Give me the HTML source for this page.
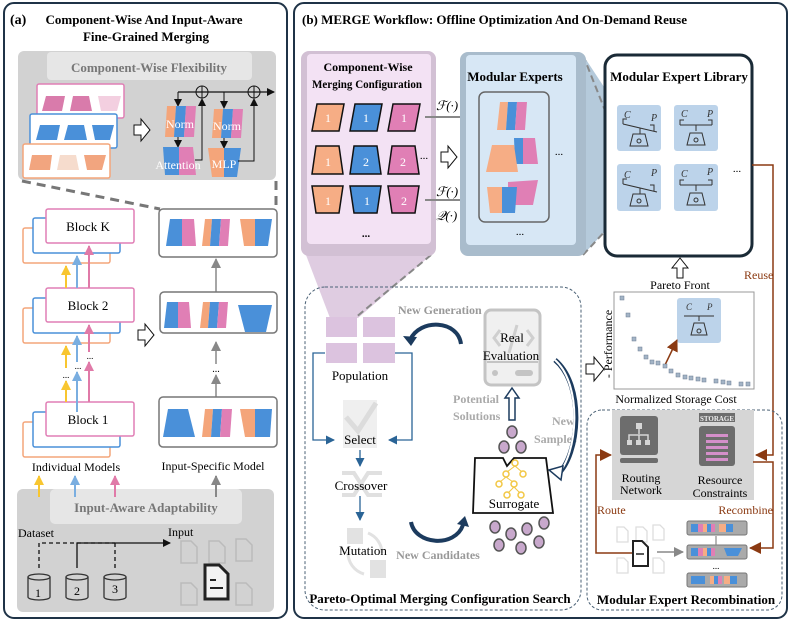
<!DOCTYPE html>
<html><head><meta charset="utf-8"><style>
html,body{margin:0;padding:0;background:#fff}
svg{display:block}
text{font-family:"Liberation Serif",serif}
</style></head><body>
<svg width="793" height="621" viewBox="0 0 793 621" xmlns="http://www.w3.org/2000/svg">
<defs>
<marker id="ak" markerWidth="8" markerHeight="8" refX="7" refY="4" orient="auto" markerUnits="userSpaceOnUse"><path d="M0,0 L8,4 L0,8z" fill="#111"/></marker>
<marker id="ag" markerWidth="10" markerHeight="10" refX="9" refY="5" orient="auto" markerUnits="userSpaceOnUse"><path d="M0,0 L10,5 L0,10z" fill="#888"/></marker>
<marker id="ay" markerWidth="10" markerHeight="10" refX="9" refY="5" orient="auto" markerUnits="userSpaceOnUse"><path d="M0,0 L10,5 L0,10z" fill="#f8c630"/></marker>
<marker id="ab" markerWidth="10" markerHeight="10" refX="9" refY="5" orient="auto" markerUnits="userSpaceOnUse"><path d="M0,0 L10,5 L0,10z" fill="#7aaee0"/></marker>
<marker id="ap" markerWidth="10" markerHeight="10" refX="9" refY="5" orient="auto" markerUnits="userSpaceOnUse"><path d="M0,0 L10,5 L0,10z" fill="#e07aa8"/></marker>
<marker id="an" markerWidth="9" markerHeight="9" refX="8" refY="4.5" orient="auto" markerUnits="userSpaceOnUse"><path d="M0,0 L9,4.5 L0,9z" fill="#2a6496"/></marker>
<marker id="ar" markerWidth="12" markerHeight="12" refX="11" refY="6" orient="auto" markerUnits="userSpaceOnUse"><path d="M0,0 L12,6 L0,12z" fill="#8b3a12"/></marker>
</defs>

<!-- PANEL A -->
<rect x="4" y="3" width="283" height="615" rx="10" fill="#fff" stroke="#1f3347" stroke-width="2"/>
<text x="10" y="24" font-size="14" font-weight="bold">(a)</text>
<text x="144" y="24" font-size="13" font-weight="bold" text-anchor="middle" textLength="197" lengthAdjust="spacingAndGlyphs">Component-Wise And Input-Aware</text>
<text x="146" y="41" font-size="13" font-weight="bold" text-anchor="middle">Fine-Grained Merging</text>

<rect x="18" y="51" width="258" height="129" rx="6" fill="#d2d2d2"/>
<rect x="47" y="52" width="205" height="28" rx="4" fill="#e6e6e6"/>
<text x="149" y="72" font-size="13" font-weight="bold" fill="#777" text-anchor="middle">Component-Wise Flexibility</text>
<rect x="37" y="84" width="87" height="34" rx="2" fill="#fff" stroke="#e07fb5" stroke-width="1.5"/>
<polygon points="46,96 65,96 62,111 42,111" fill="#d97bab"/><polygon points="73,96 89,96 92,111 70,111" fill="#d97bab"/><polygon points="98,96 121,96 117,111 101,111" fill="#f3cfe0"/>
<rect x="30" y="114" width="87" height="34" rx="2" fill="#fff" stroke="#4a90d9" stroke-width="1.5"/>
<polygon points="40,125 60,125 57,140 36,140" fill="#4a90d9"/><polygon points="68,125 84,125 87,140 64,140" fill="#4a90d9"/><polygon points="92,125 114,125 110,140 95,140" fill="#4a90d9"/>
<rect x="23" y="144" width="87" height="34" rx="2" fill="#fff" stroke="#f4a57a" stroke-width="1.5"/>
<polygon points="32,155 52,155 50,170 29,170" fill="#f2a57f"/><polygon points="60,155 76,155 79,170 57,170" fill="#f6dccd"/><polygon points="84,155 106,155 102,170 87,170" fill="#f2a57f"/>
<path d="M134,125 h7 v-6 l9,11 l-9,11 v-6 h-7z" fill="#fff" stroke="#111"/>
<line x1="178" y1="92" x2="274" y2="92" stroke="#111" stroke-width="1.2" marker-end="url(#ak)"/>
<circle cx="202" cy="92" r="6" fill="none" stroke="#111"/><line x1="196" y1="92" x2="208" y2="92" stroke="#111"/><line x1="202" y1="86" x2="202" y2="98" stroke="#111"/>
<circle cx="254" cy="92" r="6" fill="none" stroke="#111"/><line x1="248" y1="92" x2="260" y2="92" stroke="#111"/><line x1="254" y1="86" x2="254" y2="98" stroke="#111"/>
<line x1="178" y1="92" x2="178" y2="106" stroke="#111" marker-end="url(#ak)"/>
<line x1="224" y1="92" x2="224" y2="108" stroke="#111" marker-end="url(#ak)"/>
<polygon points="167,106 176,106 174,137 165,137" fill="#f4a57a"/><polygon points="176,106 186,106 184,137 174,137" fill="#4a90d9"/><polygon points="186,106 196,106 194,137 184,137" fill="#e07fb5"/>
<text x="180" y="128" font-size="12" fill="#fff" text-anchor="middle">Norm</text>
<line x1="178" y1="137" x2="178" y2="147" stroke="#111" marker-end="url(#ak)"/>
<polygon points="163,147 179,147 179,175 165,175" fill="#4a90d9"/><polygon points="179,147 193,147 196,175 179,175" fill="#e07fb5"/>
<text x="178" y="169" font-size="12" fill="#fff" text-anchor="middle">Attention</text>
<polyline points="195,160 202,160 202,99" fill="none" stroke="#111" marker-end="url(#ak)"/>
<polygon points="214,109 223,109 221,138 212,138" fill="#f4a57a"/><polygon points="223,109 233,109 231,138 221,138" fill="#4a90d9"/><polygon points="233,109 243,109 241,138 231,138" fill="#e07fb5"/>
<text x="227" y="130" font-size="12" fill="#fff" text-anchor="middle">Norm</text>
<line x1="224" y1="138" x2="224" y2="148" stroke="#111" marker-end="url(#ak)"/>
<polygon points="208,148 224,148 224,177 212,177" fill="#f4a57a"/><polygon points="224,148 241,148 237,177 224,177" fill="#4a90d9"/>
<text x="224" y="168" font-size="12" fill="#fff" text-anchor="middle">MLP</text>
<polyline points="238,161 254,161 254,99" fill="none" stroke="#111" marker-end="url(#ak)"/>
<line x1="22" y1="181" x2="160" y2="209" stroke="#777" stroke-width="3" stroke-dasharray="9,6"/>
<line x1="276" y1="181" x2="276" y2="209" stroke="#777" stroke-width="3" stroke-dasharray="9,6"/>
<rect x="159" y="209" width="118" height="48" rx="4" fill="#fff" stroke="#777" stroke-width="1.5"/>
<polygon points="170,219 182,219 182,246 166,246" fill="#4a90d9"/><polygon points="182,219 194,219 196,246 182,246" fill="#e07fb5"/>
<polygon points="205,219 212,219 210,246 202,246" fill="#f4a57a"/><polygon points="212,219 221,219 219,246 210,246" fill="#4a90d9"/><polygon points="221,219 230,219 228,246 219,246" fill="#e07fb5"/>
<polygon points="240,219 255,219 255,246 244,246" fill="#f4a57a"/><polygon points="255,219 272,219 268,246 255,246" fill="#4a90d9"/>
<line x1="216" y1="293" x2="216" y2="259" stroke="#888" stroke-width="1.5" marker-end="url(#ag)"/>
<rect x="160" y="292" width="117" height="41" rx="4" fill="#fff" stroke="#777" stroke-width="1.5"/>
<polygon points="167,302 178,302 178,328 164,328" fill="#4a90d9"/><polygon points="178,302 189,302 191,328 178,328" fill="#e07fb5"/>
<polygon points="203,302 210,302 208,328 200,328" fill="#f4a57a"/><polygon points="210,302 219,302 217,328 208,328" fill="#4a90d9"/><polygon points="219,302 228,302 226,328 217,328" fill="#e07fb5"/>
<polygon points="238,305 272,305 266,332 245,332" fill="#4a90d9"/>
<path d="M138,330 h7 v-6 l9,11 l-9,11 v-6 h-7z" fill="#fff" stroke="#111"/>
<line x1="216" y1="397" x2="216" y2="375" stroke="#888" stroke-width="1.5" marker-end="url(#ag)"/>
<line x1="216" y1="364" x2="216" y2="342" stroke="#888" stroke-width="1.5" marker-end="url(#ag)"/>
<text x="216" y="372" font-size="10" text-anchor="middle">...</text>
<rect x="159" y="397" width="118" height="50" rx="4" fill="#fff" stroke="#777" stroke-width="1.5"/>
<polygon points="168,409 188,409 195,437 163,437" fill="#4a90d9"/>
<polygon points="205,409 213,409 211,437 202,437" fill="#f4a57a"/><polygon points="213,409 222,409 220,437 211,437" fill="#4a90d9"/><polygon points="222,409 232,409 230,437 220,437" fill="#e07fb5"/>
<polygon points="240,409 255,409 255,437 245,437" fill="#f4a57a"/><polygon points="255,409 272,409 270,437 255,437" fill="#4a90d9"/>
<text x="213" y="470" font-size="12" text-anchor="middle">Input-Specific Model</text>
<g fill="#fff" stroke-width="1.5">
<rect x="23" y="228" width="87" height="35" rx="2" stroke="#f4a57a"/><rect x="33" y="218" width="87" height="35" rx="2" stroke="#4a90d9"/><rect x="46" y="209" width="88" height="34" rx="2" stroke="#e07fb5"/>
<rect x="23" y="308" width="87" height="35" rx="2" stroke="#f4a57a"/><rect x="33" y="298" width="87" height="35" rx="2" stroke="#4a90d9"/><rect x="46" y="288" width="88" height="34" rx="2" stroke="#e07fb5"/>
<rect x="23" y="422" width="87" height="35" rx="2" stroke="#f4a57a"/><rect x="33" y="412" width="87" height="35" rx="2" stroke="#4a90d9"/><rect x="46" y="402" width="88" height="34" rx="2" stroke="#e07fb5"/>
</g>
<text x="88" y="231" font-size="13" text-anchor="middle">Block K</text>
<text x="88" y="310" font-size="13" text-anchor="middle">Block 2</text>
<text x="88" y="424" font-size="13" text-anchor="middle">Block 1</text>
<g stroke-width="2">
<line x1="66" y1="288" x2="66" y2="266" stroke="#f8c630" marker-end="url(#ay)"/>
<line x1="77" y1="288" x2="77" y2="256" stroke="#7aaee0" marker-end="url(#ab)"/>
<line x1="89" y1="288" x2="89" y2="246" stroke="#e07aa8" marker-end="url(#ap)"/>
<line x1="66" y1="402" x2="66" y2="381" stroke="#f8c630" marker-end="url(#ay)"/>
<line x1="66" y1="368" x2="66" y2="346" stroke="#f8c630" marker-end="url(#ay)"/>
<line x1="77" y1="412" x2="77" y2="372" stroke="#7aaee0" marker-end="url(#ab)"/>
<line x1="77" y1="362" x2="77" y2="336" stroke="#7aaee0" marker-end="url(#ab)"/>
<line x1="89" y1="402" x2="89" y2="362" stroke="#e07aa8" marker-end="url(#ap)"/>
<line x1="89" y1="352" x2="89" y2="325" stroke="#e07aa8" marker-end="url(#ap)"/>
</g>
<text x="66" y="378" font-size="9" text-anchor="middle">...</text>
<text x="78" y="369" font-size="9" text-anchor="middle">...</text>
<text x="90" y="359" font-size="9" text-anchor="middle">...</text>
<text x="76" y="471" font-size="12" text-anchor="middle">Individual Models</text>
<rect x="17" y="489" width="257" height="123" rx="6" fill="#d2d2d2"/>
<rect x="50" y="489" width="192" height="35" rx="5" fill="#e6e6e6"/>
<text x="146" y="512" font-size="13" font-weight="bold" fill="#777" text-anchor="middle">Input-Aware Adaptability</text>
<g stroke-width="2">
<line x1="39" y1="497" x2="39" y2="476" stroke="#f8c630" marker-end="url(#ay)"/>
<line x1="75" y1="497" x2="75" y2="476" stroke="#7aaee0" marker-end="url(#ab)"/>
<line x1="115" y1="497" x2="115" y2="476" stroke="#e07aa8" marker-end="url(#ap)"/>
<line x1="216" y1="497" x2="216" y2="476" stroke="#888" marker-end="url(#ag)"/>
</g>
<text x="18" y="537" font-size="12">Dataset</text>
<text x="168" y="536" font-size="12">Input</text>
<path d="M39,568 V543 H77 M115,543 V568 M77,543 H115" fill="none" stroke="#111" stroke-width="1.3" stroke-dasharray="4,3"/>
<path d="M77,568 V543 H170" fill="none" stroke="#111" stroke-width="1.3" marker-end="url(#ak)"/>
<g fill="none" stroke="#333" stroke-width="1.3">
<path d="M28,577 v20 a11,3 0 0 0 22,0 v-20"/><ellipse cx="39" cy="577" rx="11" ry="3"/>
<path d="M66,577 v20 a11,3 0 0 0 22,0 v-20"/><ellipse cx="77" cy="577" rx="11" ry="3"/>
<path d="M104,577 v20 a11,3 0 0 0 22,0 v-20"/><ellipse cx="115" cy="577" rx="11" ry="3"/>
</g>
<text x="38" y="597" font-size="12" text-anchor="middle">1</text><text x="77" y="595" font-size="12" text-anchor="middle">2</text><text x="115" y="593" font-size="12" text-anchor="middle">3</text>
<g fill="none" stroke="#bbb" stroke-width="1.5">
<path d="M181,541 h10 l6,6 v16 h-16z"/><path d="M209,541 h10 l6,6 v16 h-16z"/><path d="M236,539 h10 l6,6 v16 h-16z"/>
<path d="M181,583 h10 l6,6 v16 h-16z"/><path d="M236,583 h10 l6,6 v16 h-16z"/>
</g>
<path d="M205,565 h14 l9,9 v25 h-23z" fill="#f3f3f3" stroke="#222" stroke-width="3"/>
<line x1="210" y1="580" x2="216" y2="580" stroke="#222" stroke-width="2"/><line x1="210" y1="588" x2="223" y2="588" stroke="#222" stroke-width="2"/>

<!-- PANEL B -->
<rect x="294" y="3" width="493" height="615" rx="10" fill="#fff" stroke="#1f3347" stroke-width="2"/>
<text x="302" y="24" font-size="13" font-weight="bold" textLength="385" lengthAdjust="spacingAndGlyphs">(b) MERGE Workflow: Offline Optimization And On-Demand Reuse</text>

<polygon points="306,255 431,255 358,318 330,318" fill="#d9c3dc" opacity="0.85"/>
<line x1="431" y1="255" x2="355" y2="318" stroke="#888" stroke-width="2" stroke-dasharray="7,4"/>
<rect x="301" y="51" width="135" height="205" rx="8" fill="#d2c0d4"/>
<rect x="307" y="54" width="124" height="190" rx="4" fill="#f3e2f4"/>
<text x="368" y="71" font-size="12" font-weight="bold" text-anchor="middle">Component-Wise</text>
<text x="367" y="88" font-size="12" font-weight="bold" text-anchor="middle" textLength="110" lengthAdjust="spacingAndGlyphs">Merging Configuration</text>
<g stroke="#111" stroke-width="1.5">
<polygon points="317,104 344,104 339,131 312,131" fill="#f6ad85"/><polygon points="355,104 382,104 377,131 350,131" fill="#4a90d9"/><polygon points="393,104 420,104 415,131 388,131" fill="#e07fb5"/>
<polygon points="316,146 339,146 343,174 312,174" fill="#f6ad85"/><polygon points="354,146 377,146 381,174 350,174" fill="#4a90d9"/><polygon points="392,146 415,146 419,174 388,174" fill="#e07fb5"/>
<polygon points="312,186 343,186 339,213 316,213" fill="#f6ad85"/><polygon points="350,186 381,186 377,213 354,213" fill="#4a90d9"/><polygon points="388,186 419,186 415,213 392,213" fill="#e07fb5"/>
</g>
<g font-size="12" fill="#fff" text-anchor="middle">
<text x="328" y="122">1</text><text x="366" y="122">1</text><text x="404" y="122">1</text>
<text x="328" y="166">1</text><text x="366" y="166">2</text><text x="403" y="166">2</text>
<text x="328" y="205">1</text><text x="367" y="205">1</text><text x="404" y="205">2</text>
</g>
<text x="366" y="237" font-size="11" font-weight="bold" text-anchor="middle">...</text>
<text x="424" y="159" font-size="11" text-anchor="middle">...</text>
<text x="436" y="110" font-size="13" font-style="italic">ℱ(·)</text>
<line x1="425" y1="117" x2="477" y2="117" stroke="#888" stroke-width="2" marker-end="url(#ag)"/>
<path d="M441,152 h7 v-6 l9,11 l-9,11 v-6 h-7z" fill="#fff" stroke="#111"/>
<text x="436" y="196" font-size="13" font-style="italic">ℱ(·)</text>
<line x1="425" y1="200" x2="477" y2="200" stroke="#888" stroke-width="2" marker-end="url(#ag)"/>
<text x="436" y="220" font-size="13" font-style="italic">𝒬(·)</text>
<polygon points="583,55 606,90 606,230 583,255" fill="#b5cadb"/>
<line x1="583" y1="55" x2="608" y2="118" stroke="#888" stroke-width="2" stroke-dasharray="7,4"/>
<line x1="583" y1="255" x2="608" y2="228" stroke="#888" stroke-width="2" stroke-dasharray="7,4"/>
<rect x="460" y="52" width="126" height="204" rx="8" fill="#a9bccc"/>
<rect x="466" y="55" width="110" height="190" rx="4" fill="#d7e7f5"/>
<text x="515" y="81" font-size="13" font-weight="bold" text-anchor="middle">Modular Experts</text>
<rect x="479" y="92" width="70" height="130" rx="6" fill="#d7e7f5" stroke="#666" stroke-width="1.5"/>
<polygon points="500,102 508,102 506,130 497,130" fill="#f6ad85"/><polygon points="508,102 517,102 515,130 506,130" fill="#4a90d9"/><polygon points="517,102 527,102 525,130 515,130" fill="#e07fb5"/>
<polygon points="514,138 523,138 523,164 515,164" fill="#4a90d9"/><polygon points="523,138 535,138 538,164 523,164" fill="#e07fb5"/>
<polygon points="492,145 514,145 518,172 486,172" fill="#f6ad85"/>
<polygon points="508,182 538,180 533,205 508,205" fill="#e07fb5"/>
<polygon points="487,187 502,187 502,213 490,213" fill="#f6ad85"/><polygon points="502,187 517,187 515,213 502,213" fill="#4a90d9"/>
<text x="559" y="155" font-size="11" text-anchor="middle">...</text>
<text x="520" y="235" font-size="11" text-anchor="middle">...</text>
<rect x="605" y="55" width="147" height="201" rx="12" fill="#fff" stroke="#1a2a36" stroke-width="3"/>
<text x="679" y="81" font-size="13" font-weight="bold" text-anchor="middle">Modular Expert Library</text>
<rect x="617" y="105" width="44" height="46" rx="3" fill="#bcd3ea"/>
<rect x="674" y="105" width="44" height="46" rx="3" fill="#bcd3ea"/>
<rect x="617" y="164" width="44" height="47" rx="3" fill="#bcd3ea"/>
<rect x="674" y="164" width="44" height="47" rx="3" fill="#bcd3ea"/>
<g fill="none" stroke="#333" stroke-width="1">
<path d="M623,124 l34,8 M640,128 v6 M630,146 l3,-12 h12 l3,12z M623,124 v-5 h4 M654,131 v-6 h-4"/>
<path d="M680,125 h32 M696,125 v6 M687,145 l3,-12 h12 l3,12z M680,125 v-5 h4 M712,125 v-5 h-4"/>
<path d="M623,184 l34,8 M640,188 v6 M630,206 l3,-12 h12 l3,12z M623,184 v-5 h4 M654,191 v-6 h-4"/>
<path d="M680,185 h32 M696,185 v6 M687,205 l3,-12 h12 l3,12z M680,185 v-5 h4 M712,185 v-5 h-4"/>
<circle cx="639" cy="141" r="2"/><circle cx="696" cy="140" r="2"/><circle cx="639" cy="201" r="2"/><circle cx="696" cy="200" r="2"/>
</g>
<g font-size="10" font-style="italic" fill="#333">
<text x="624" y="118">C</text><text x="651" y="121">P</text><text x="681" y="117">C</text><text x="707" y="117">P</text>
<text x="624" y="178">C</text><text x="651" y="176">P</text><text x="681" y="177">C</text><text x="707" y="175">P</text>
</g>
<text x="737" y="172" font-size="11" text-anchor="middle">...</text>
<polyline points="752,165 773,165 773,455 756,455" fill="none" stroke="#8b3a12" stroke-width="1.5" marker-end="url(#ar)"/>
<text x="744" y="279" font-size="12" fill="#8b3a12">Reuse</text>
<path d="M677,278 v-10 h-5 l8,-10 l8,10 h-5 v10z" fill="#fff" stroke="#111"/>
<text x="680" y="289" font-size="12" text-anchor="middle">Pareto Front</text>
<rect x="614" y="292" width="140" height="97" fill="#fff" stroke="#999"/>
<text transform="translate(612,344) rotate(-90)" font-size="12" text-anchor="middle">- Performance</text>
<rect x="677" y="298" width="44" height="45" rx="3" fill="#bcd3ea"/>
<g fill="none" stroke="#333" stroke-width="1"><path d="M684,316 h30 M699,316 v5 M691,335 l3,-12 h10 l3,12z"/><circle cx="699" cy="331" r="2"/></g>
<g font-size="9" font-style="italic" fill="#333"><text x="686" y="310">C</text><text x="707" y="310">P</text></g>
<line x1="665" y1="365" x2="677" y2="340" stroke="#8b3a12" stroke-width="1.5" marker-end="url(#ar)"/>
<g fill="#a3b4c6" stroke="#6c7f92" stroke-width="0.5">
<rect x="620" y="296" width="4" height="4"/><rect x="626" y="313" width="4" height="4"/><rect x="632" y="337" width="4" height="4"/><rect x="638" y="347" width="4" height="4"/><rect x="644" y="355" width="4" height="4"/><rect x="650" y="360" width="4" height="4"/><rect x="656" y="361" width="4" height="4"/><rect x="663" y="364" width="4" height="4"/><rect x="669" y="369" width="4" height="4"/><rect x="676" y="373" width="4" height="4"/><rect x="683" y="375" width="4" height="4"/><rect x="689" y="376" width="4" height="4"/><rect x="696" y="377" width="4" height="4"/><rect x="702" y="378" width="4" height="4"/><rect x="714" y="379" width="4" height="4"/><rect x="721" y="380" width="4" height="4"/><rect x="727" y="381" width="4" height="4"/><rect x="739" y="382" width="4" height="4"/><rect x="746" y="382" width="4" height="4"/>
</g>
<text x="676" y="403" font-size="12" text-anchor="middle">Normalized Storage Cost</text>
<path d="M586,364 h8 v-7 l10,12 l-10,12 v-7 h-8z" fill="#fff" stroke="#111"/>

<rect x="305" y="287" width="276" height="323" rx="20" fill="none" stroke="#4b6276" stroke-width="1" stroke-dasharray="3,2"/>
<text x="440" y="603" font-size="13" font-weight="bold" text-anchor="middle">Pareto-Optimal Merging Configuration Search</text>
<g fill="#dcc3df"><rect x="326" y="317" width="31" height="20"/><rect x="363" y="317" width="32" height="20"/><rect x="326" y="343" width="31" height="20"/><rect x="363" y="343" width="32" height="20"/></g>
<text x="360" y="380" font-size="13" text-anchor="middle">Population</text>
<polyline points="325,353 313,353 313,440 334,440" fill="none" stroke="#2a6496" stroke-width="1.3" marker-end="url(#an)"/>
<polyline points="395,353 412,353 412,440 389,440" fill="none" stroke="#2a6496" stroke-width="1.3" marker-end="url(#an)"/>
<rect x="343" y="400" width="34" height="48" fill="#efefef"/>
<path d="M346,417 l12,14 l18,-28" fill="none" stroke="#dcdcdc" stroke-width="5"/>
<text x="360" y="444" font-size="13" text-anchor="middle">Select</text>
<line x1="360" y1="450" x2="360" y2="466" stroke="#2a6496" stroke-width="1.3" marker-end="url(#an)"/>
<path d="M342,473 h12 l14,22 h14 M342,495 h12 l14,-22 h14" fill="none" stroke="#e0e0e0" stroke-width="4"/>
<text x="361" y="490" font-size="13" text-anchor="middle">Crossover</text>
<line x1="360" y1="496" x2="360" y2="520" stroke="#2a6496" stroke-width="1.3" marker-end="url(#an)"/>
<rect x="347" y="528" width="16" height="16" fill="#e2e2e2"/><rect x="370" y="560" width="16" height="18" fill="#e2e2e2"/>
<path d="M368,533 a22,22 0 0 1 14,20 M348,552 a22,22 0 0 0 16,22" fill="none" stroke="#e2e2e2" stroke-width="3"/>
<text x="363" y="555" font-size="13" text-anchor="middle">Mutation</text>
<text x="398" y="314" font-size="12" fill="#999" font-weight="bold">New Generation</text>
<path d="M461,344 C458,320 420,318 410,340" fill="none" stroke="#1c3b5e" stroke-width="4"/>
<path d="M403,336 l8,10 l6,-9z" fill="#1c3b5e"/>
<text x="438" y="559" font-size="12" fill="#999" font-weight="bold" text-anchor="middle">New Candidates</text>
<path d="M411,522 C415,545 455,548 463,525" fill="none" stroke="#1c3b5e" stroke-width="4"/>
<path d="M457,524 l8,-8 l4,11z" fill="#1c3b5e"/>
<rect x="485" y="310" width="55" height="75" rx="6" fill="#f0f0f0" stroke="#c4c4c4" stroke-width="3"/>
<line x1="487" y1="362" x2="538" y2="362" stroke="#c4c4c4" stroke-width="2"/>
<circle cx="495" cy="373" r="3" fill="#c4c4c4"/><rect x="515" y="370" width="18" height="6" rx="3" fill="#c4c4c4"/>
<path d="M500,330 l-6,8 l6,8 M527,330 l6,8 l-6,8 M517,325 l-8,28" fill="none" stroke="#cfcfcf" stroke-width="3"/>
<text x="512" y="342" font-size="13" text-anchor="middle">Real</text>
<text x="511" y="360" font-size="13" text-anchor="middle">Evaluation</text>
<path d="M509,420 v-22 h-4 l7,-10 l7,10 h-4 v22z" fill="#fff" stroke="#1c3b5e" stroke-width="1.5"/>
<text x="453" y="403" font-size="12" fill="#aaa" font-weight="bold">Potential</text>
<text x="453" y="420" font-size="12" fill="#aaa" font-weight="bold">Solutions</text>
<text x="552" y="425" font-size="12" fill="#aaa" font-weight="bold">New</text>
<text x="534" y="443" font-size="12" fill="#aaa" font-weight="bold">Samples</text>
<path d="M555,360 C585,385 580,455 557,475" fill="none" stroke="#1c3b5e" stroke-width="5"/>
<path d="M555,360 C583,385 578,455 557,475" fill="none" stroke="#fff" stroke-width="2"/>
<path d="M549,470 l14,-4 l-2,14z" fill="#fff" stroke="#1c3b5e" stroke-width="1.5"/>
<g fill="#c8a8cc" stroke="#555" stroke-width="1.5">
<ellipse cx="512" cy="432" rx="5" ry="6"/><ellipse cx="504" cy="447" rx="5" ry="6"/><ellipse cx="521" cy="447" rx="5" ry="6"/>
<ellipse cx="495" cy="527" rx="5" ry="6"/><ellipse cx="511" cy="534" rx="5" ry="6"/><ellipse cx="527" cy="529" rx="5" ry="6"/><ellipse cx="544" cy="523" rx="5" ry="6"/>
<ellipse cx="499" cy="545" rx="5" ry="6"/><ellipse cx="521" cy="548" rx="5" ry="6"/><ellipse cx="539" cy="542" rx="5" ry="6"/>
</g>
<polygon points="475,458 503,458 507,466 514,458 546,458 553,513 473,513" fill="#fff" stroke="#111" stroke-width="1.8"/>
<g fill="none" stroke="#f2c744" stroke-width="1.5"><circle cx="515" cy="463" r="3"/><circle cx="506" cy="474" r="3"/><circle cx="523" cy="474" r="3"/><circle cx="499" cy="484" r="3"/><circle cx="514" cy="484" r="3"/><circle cx="507" cy="495" r="3"/><circle cx="521" cy="495" r="3"/></g>
<path d="M515,466 l-8,6 M515,466 l7,6 M506,477 l-6,5 M506,477 l7,5 M514,487 l-6,6 M514,487 l6,6" stroke="#f2c744" stroke-width="1"/>
<text x="514" y="508" font-size="13" text-anchor="middle">Surrogate</text>

<rect x="587" y="410" width="195" height="200" rx="15" fill="none" stroke="#4b6276" stroke-width="1" stroke-dasharray="3,2"/>
<text x="686" y="604" font-size="13" font-weight="bold" text-anchor="middle">Modular Expert Recombination</text>
<rect x="612" y="410" width="142" height="90" fill="#d6d6d6"/>
<rect x="620" y="416" width="38" height="39" rx="3" fill="#6d6d6d"/>
<rect x="620" y="458" width="38" height="5" rx="2" fill="#6d6d6d"/>
<g fill="#d6d6d6"><rect x="636" y="423" width="6" height="6"/><rect x="627" y="440" width="5" height="5"/><rect x="636" y="440" width="5" height="5"/><rect x="645" y="440" width="5" height="5"/></g>
<path d="M639,429 v5 M629,440 v-5 h19 v5 M639,435 v5" stroke="#d6d6d6" stroke-width="1.5" fill="none"/>
<text x="641" y="482" font-size="12" text-anchor="middle">Routing</text>
<text x="641" y="494" font-size="12" text-anchor="middle">Network</text>
<rect x="699" y="413" width="36" height="9" fill="#6d6d6d"/>
<text x="717" y="421" font-size="7" font-family="Liberation Sans" font-weight="bold" fill="#eee" text-anchor="middle">STORAGE</text>
<rect x="699" y="426" width="36" height="40" rx="3" fill="#6d6d6d"/>
<g fill="#d48fca"><rect x="706" y="434" width="22" height="3"/><rect x="706" y="440" width="22" height="3"/><rect x="706" y="446" width="22" height="3"/><rect x="706" y="452" width="22" height="3"/><rect x="706" y="458" width="22" height="3"/></g>
<text x="720" y="484" font-size="12" text-anchor="middle">Resource</text>
<text x="720" y="497" font-size="12" text-anchor="middle">Constraints</text>
<text x="597" y="514" font-size="12" fill="#8b3a12">Route</text>
<text x="773" y="514" font-size="12" fill="#8b3a12" text-anchor="end">Recombine</text>
<polyline points="632,553 596,553 596,455 611,455" fill="none" stroke="#8b3a12" stroke-width="1.5" marker-end="url(#ar)"/>
<polyline points="753,462 773,462 773,548 750,548" fill="none" stroke="#8b3a12" stroke-width="1.5" marker-end="url(#ar)"/>
<g fill="none" stroke="#ddd" stroke-width="1.3">
<path d="M617,527 h7 l4,4 v11 h-11z"/><path d="M636,527 h7 l4,4 v11 h-11z"/><path d="M653,525 h7 l4,4 v11 h-11z"/>
<path d="M617,558 h7 l4,4 v11 h-11z"/><path d="M653,558 h7 l4,4 v11 h-11z"/>
</g>
<path d="M633,541 h9 l6,6 v19 h-15z" fill="#fff" stroke="#222" stroke-width="2"/>
<line x1="636" y1="554" x2="644" y2="554" stroke="#222" stroke-width="1.5"/>
<line x1="657" y1="552" x2="683" y2="552" stroke="#888" stroke-width="1.5" marker-end="url(#ag)"/>
<rect x="687" y="521" width="60" height="14" rx="2" fill="#aaa" stroke="#777"/>
<rect x="687" y="545" width="60" height="14" rx="2" fill="#aaa" stroke="#777"/>
<rect x="687" y="573" width="60" height="14" rx="2" fill="#aaa" stroke="#777"/>
<g fill="#4a90d9"><rect x="691" y="524" width="7" height="8"/><rect x="707" y="524" width="4" height="8"/><rect x="726" y="524" width="7" height="8"/><rect x="691" y="548" width="7" height="8"/><rect x="707" y="548" width="4" height="8"/><polygon points="724,548 742,548 738,556 727,556"/><rect x="691" y="576" width="14" height="8"/><rect x="714" y="576" width="4" height="8"/><rect x="730" y="576" width="7" height="8"/></g>
<g fill="#e07fb5"><rect x="698" y="524" width="6" height="8"/><rect x="711" y="524" width="4" height="8"/><rect x="698" y="548" width="6" height="8"/><rect x="711" y="548" width="4" height="8"/><rect x="718" y="576" width="4" height="8"/></g>
<g fill="#f6ad85"><rect x="703" y="524" width="4" height="8"/><rect x="719" y="524" width="7" height="8"/><rect x="703" y="548" width="4" height="8"/><rect x="710" y="576" width="4" height="8"/><rect x="724" y="576" width="6" height="8"/></g>
<line x1="716" y1="545" x2="716" y2="536" stroke="#888" stroke-width="1.2"/>
<text x="716" y="569" font-size="9" text-anchor="middle">...</text>
</svg>
</body></html>
